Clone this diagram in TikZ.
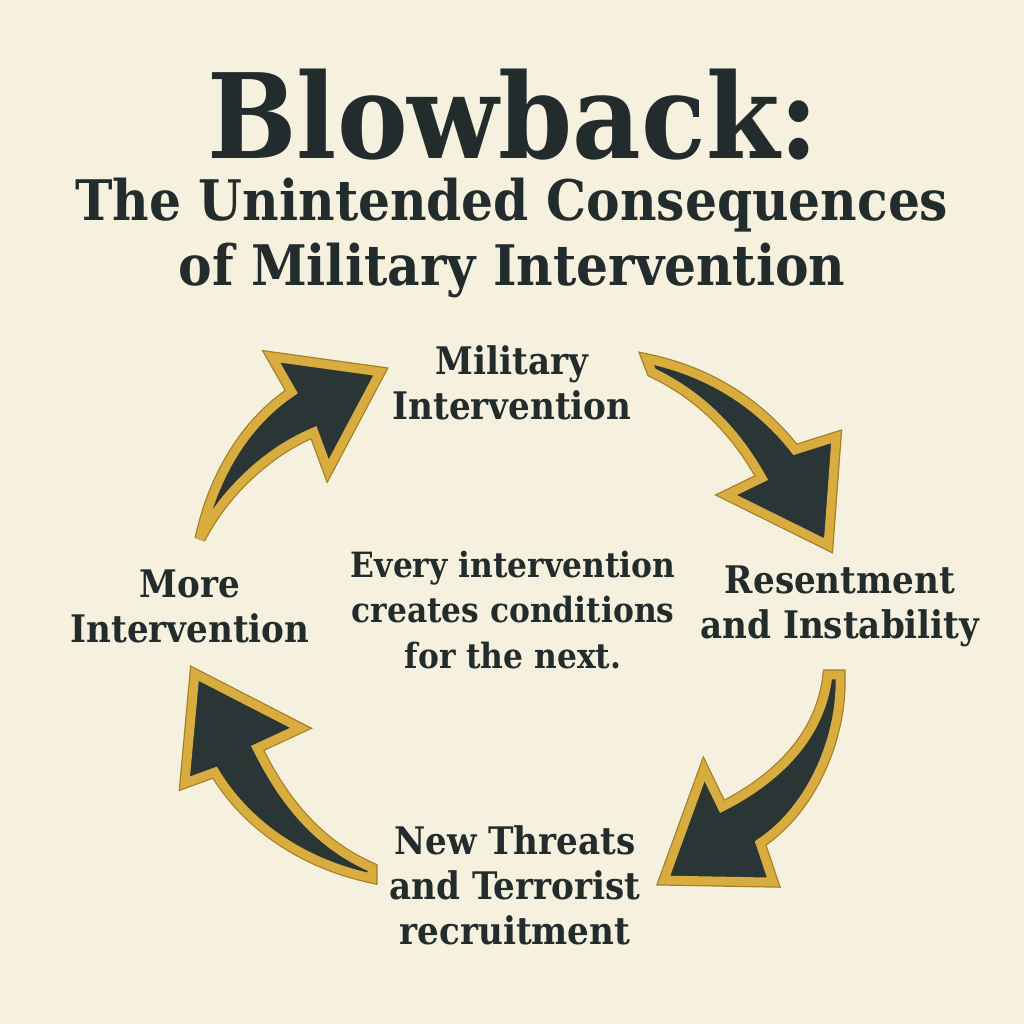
\documentclass[tikz,border=0pt]{standalone}
\usepackage{fontspec}
\newfontfamily\slab{DejaVu Serif Condensed}[BoldFont={DejaVu Serif Condensed Bold}]
\usetikzlibrary{positioning}

\definecolor{paper}{HTML}{F6F1DE}
\definecolor{ink}{HTML}{232C2C}
\definecolor{arrowfill}{HTML}{2A3535}
\definecolor{arrowgold}{HTML}{D8AC3E}
\definecolor{golddark}{HTML}{A47F24}

\begin{document}
\begin{tikzpicture}[x=0.01cm, y=-0.01cm, font=\slab\bfseries,
	title/.style={text=ink, align=center, inner sep=0pt},
	step_label/.style={text=ink, align=center, inner sep=0pt, font=\slab\bfseries\fontsize{10.8}{12.8}\selectfont},
	rim/.style={draw=golddark, line width=3.2pt, line join=miter, miter limit=4},
	cyclearrow/.style={fill=arrowfill, draw=arrowgold, line width=2.5pt, line join=miter, miter limit=4}]
	
	\fill[paper] (0,0) rectangle (1024,1024);
	
	% titles
	\node[title, font=\slab\bfseries\fontsize{33.5}{36}\selectfont, anchor=base, text depth=0pt] (head) at (513,158) {Blowback:};
	\node[title, font=\slab\bfseries\fontsize{15.9}{18.5}\selectfont, anchor=base] (sub) at (512,220) {The Unintended Consequences};
	\node[title, font=\slab\bfseries\fontsize{15.9}{18.5}\selectfont, anchor=base] (sub2) at (512,285) {of Military Intervention};
	
	% cycle labels
	\node[step_label] (military) at (512,383) {Military\\Intervention};
	\node[step_label] (resent) at (840,606) {Resentment\\and Instability};
	\node[step_label] (threats) at (515,885) {New Threats\\and Terrorist\\recruitment};
	\node[step_label] (more) at (190,606) {More\\Intervention};
	\node[step_label, font=\slab\bfseries\fontsize{9.9}{12.8}\selectfont] (center) at (513,610) {Every intervention\\creates conditions\\for the next.};
	
	% the four arrows
	\foreach \s in {rim, cyclearrow} {
		% more -> military
		\path[\s] (200,539) .. controls (215,470) and (250,420) .. (292,392) -- (272,357) -- (380,372)
			-- (328,470) -- (314,432) .. controls (270,450) and (225,490) .. (200,539) -- cycle;
		% military -> resentment
		\path[\s] (647,359) .. controls (710,372) and (760,405) .. (795,450) -- (836,437) -- (828,545)
			-- (727,495) -- (762,478) .. controls (735,430) and (700,395) .. (652,372) -- cycle;
		% resentment -> threats
		\path[\s] (840,675) .. controls (842,740) and (810,810) .. (760,843) -- (773,882) -- (664,880)
			-- (704,770) -- (722,807) .. controls (785,775) and (822,730) .. (828,675) -- cycle;
		% threats -> more
		\path[\s] (372,878) .. controls (310,865) and (250,830) .. (215,772) -- (185,783) -- (195,674)
			-- (300,728) -- (257,748) .. controls (285,805) and (320,845) .. (372,868) -- cycle;
	}
\end{tikzpicture}
\end{document}
